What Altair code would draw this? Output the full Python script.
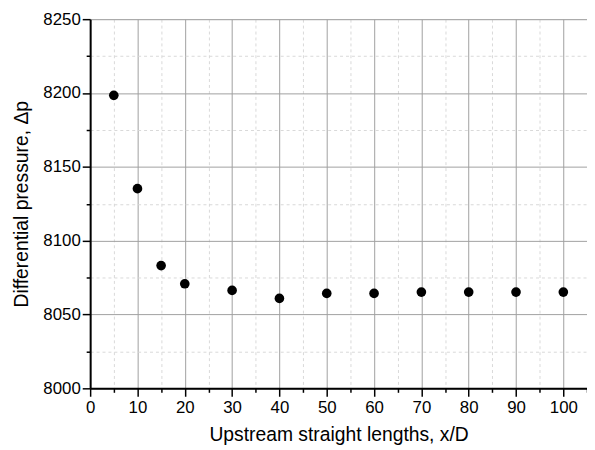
import altair as alt
import pandas as pd

x_vals = [5, 10, 15, 20, 30, 40, 50, 60, 70, 80, 90, 100]
dp_vals = [8198.4, 8135.2, 8083.1, 8070.8, 8066.3, 8060.9, 8064.3, 8064.3, 8065.2, 8065.2, 8065.2, 8065.2]

x_ticks = list(range(0, 106, 5))
y_ticks = list(range(8000, 8251, 25))

df = pd.DataFrame({"x": x_vals, "dp": dp_vals})

FONT = "Liberation Sans"

x_axis = alt.Axis(
    values=x_ticks,
    labelExpr="datum.value % 10 === 0 ? datum.label : ''",
    title="Upstream straight lengths, x/D",
    grid=True,
    gridColor={"condition": {"test": "datum.value % 10 === 0", "value": "#a0a0a0"}, "value": "#d9d9d9"},
    gridDash={"condition": {"test": "datum.value % 10 === 0", "value": []}, "value": [3, 3]},
    gridWidth=1,
    tickSize={"condition": {"test": "datum.value % 10 === 0", "value": 8}, "value": 4},
    tickColor="black",
    tickWidth=1.5,
    domainColor="black",
    domainWidth=2,
    labelFont=FONT,
    labelFontSize=17,
    labelColor="black",
    labelPadding=3,
    labelFlush=False,
    titleFont=FONT,
    titleFontSize=19.5,
    titleFontWeight="normal",
    titleColor="black",
    titlePadding=11,
)

y_axis = alt.Axis(
    values=y_ticks,
    labelExpr="datum.value % 50 === 0 ? datum.label : ''",
    format="d",
    title="Differential pressure, \u0394p",
    grid=True,
    gridColor={"condition": {"test": "datum.value % 50 === 0", "value": "#a0a0a0"}, "value": "#d9d9d9"},
    gridDash={"condition": {"test": "datum.value % 50 === 0", "value": []}, "value": [3, 3]},
    gridWidth=1,
    tickSize={"condition": {"test": "datum.value % 50 === 0", "value": 8}, "value": 4},
    tickColor="black",
    tickWidth=1.5,
    domainColor="black",
    domainWidth=2,
    labelFont=FONT,
    labelFontSize=17,
    labelColor="black",
    labelPadding=2,
    labelFlush=False,
    titleFont=FONT,
    titleFontSize=19.5,
    titleFontWeight="normal",
    titleColor="black",
    titlePadding=11,
)

chart = (
    alt.Chart(df)
    .mark_circle(size=95, color="black", opacity=1)
    .encode(
        x=alt.X("x:Q", scale=alt.Scale(domain=[0, 105], nice=False, zero=False), axis=x_axis),
        y=alt.Y("dp:Q", scale=alt.Scale(domain=[8000, 8250], nice=False, zero=False), axis=y_axis),
    )
    .properties(
        width=502,
        height=373,
        autosize=alt.AutoSizeParams(type="none"),
        padding={"left": 83, "top": 9, "right": 0, "bottom": 58},
    )
    .configure_view(stroke=None)
    .configure(background="white")
)

chart.save("out.html", embed_options={"renderer": "svg", "actions": False})
